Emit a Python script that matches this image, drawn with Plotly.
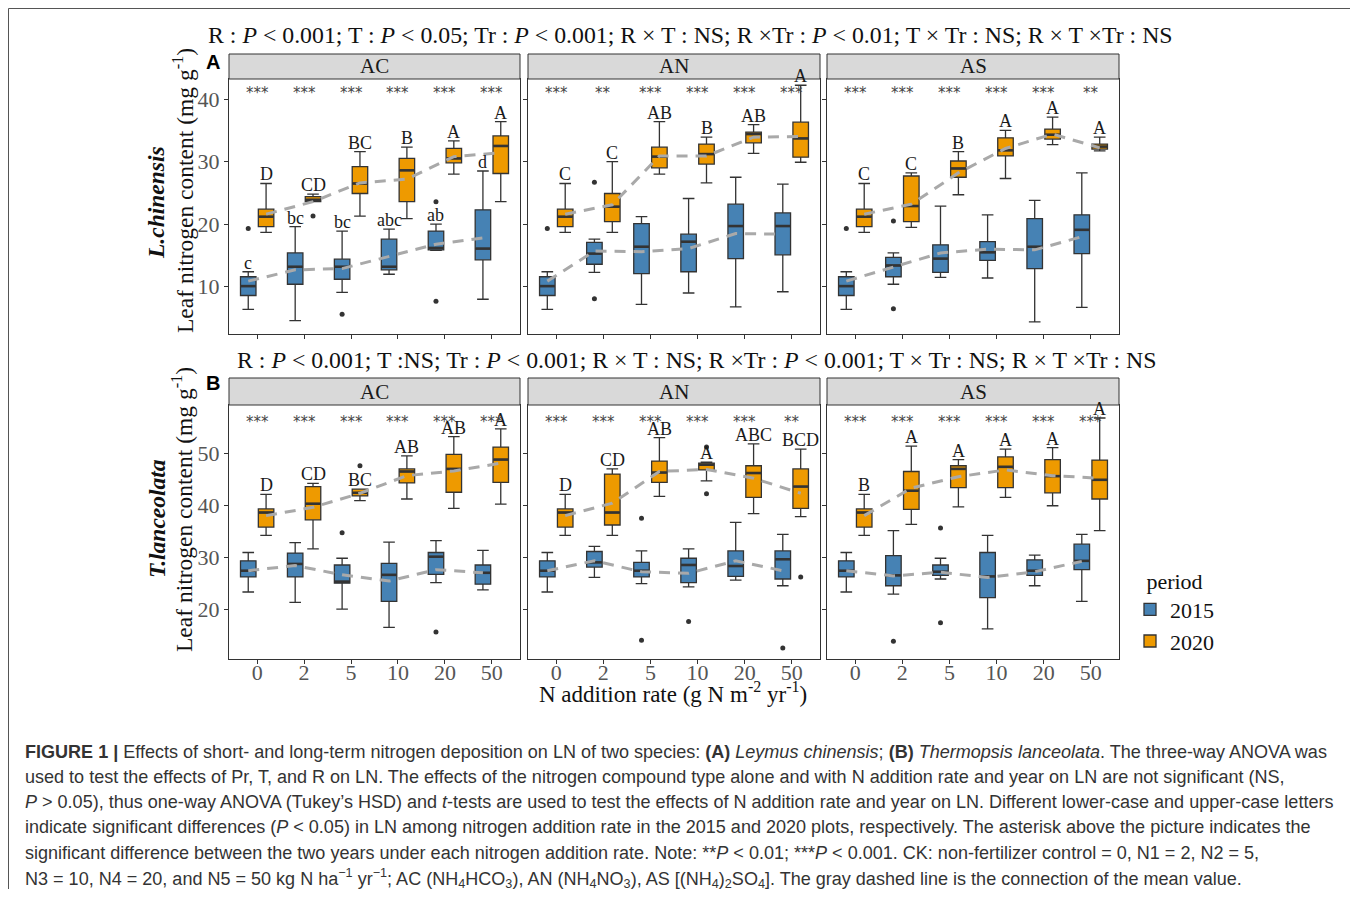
import plotly.graph_objects as go

# page body has an 8px margin; figure is sized so the whole page fits the window
PAD = 8
W, H = 1358 - 2 * PAD, 897 - 2 * PAD

rates = ["0", "2", "5", "10", "20", "50"]
treatments = ["AC", "AN", "AS"]
periods = ["2015", "2020"]
colors = {"2015": "#4682B4", "2020": "#EE9A00"}

# ---------------- (A) L. chinensis ----------------
lc_ac_15_lo = [6.4, 4.6, 9.1, 12.0, 15.8, 8.0]
lc_ac_15_q1 = [8.6, 10.4, 11.2, 12.7, 15.9, 14.3]
lc_ac_15_md = [10.1, 13.2, 13.2, 13.2, 16.2, 16.1]
lc_ac_15_q3 = [11.6, 15.4, 14.4, 17.6, 18.9, 22.3]
lc_ac_15_hi = [12.4, 19.6, 18.9, 19.2, 20.0, 28.5]
lc_ac_15_mean = [10.9, 12.7, 12.9, 14.8, 16.8, 17.8]
lc_ac_20_lo = [18.7, 23.6, 21.3, 20.9, 28.0, 23.6]
lc_ac_20_q1 = [19.6, 23.6, 24.9, 23.6, 29.8, 28.1]
lc_ac_20_md = [21.2, 23.9, 26.5, 28.6, 30.5, 32.5]
lc_ac_20_q3 = [22.4, 24.4, 29.2, 30.5, 32.1, 34.1]
lc_ac_20_hi = [26.5, 24.8, 31.6, 32.3, 33.3, 36.4]
lc_ac_20_mean = [21.6, 23.6, 26.6, 27.2, 30.8, 31.4]

lc_an_15_lo = [6.4, 12.3, 7.2, 9.0, 6.8, 9.2]
lc_an_15_q1 = [8.6, 13.6, 12.1, 12.4, 14.5, 15.1]
lc_an_15_md = [10.1, 15.3, 16.4, 17.2, 19.7, 19.7]
lc_an_15_q3 = [11.6, 17.1, 20.1, 18.4, 23.2, 21.8]
lc_an_15_hi = [12.4, 17.6, 21.2, 24.1, 27.5, 26.4]
lc_an_15_mean = [10.9, 15.7, 15.6, 16.1, 18.5, 18.4]
lc_an_20_lo = [18.7, 18.7, 28.0, 26.6, 31.3, 29.9]
lc_an_20_q1 = [19.6, 20.4, 29.0, 29.6, 33.0, 30.7]
lc_an_20_md = [21.2, 22.8, 30.8, 31.2, 34.4, 33.7]
lc_an_20_q3 = [22.4, 24.9, 32.3, 32.8, 34.7, 36.3]
lc_an_20_hi = [26.5, 30.0, 36.4, 33.9, 35.9, 42.2]
lc_an_20_mean = [21.6, 23.1, 30.9, 30.9, 33.9, 34.0]

lc_as_15_lo = [6.4, 10.4, 11.5, 11.4, 4.4, 6.7]
lc_as_15_q1 = [8.6, 11.6, 12.3, 14.2, 12.9, 15.3]
lc_as_15_md = [10.1, 13.4, 14.5, 15.5, 16.4, 19.1]
lc_as_15_q3 = [11.6, 14.7, 16.7, 17.2, 20.9, 21.5]
lc_as_15_hi = [12.4, 15.4, 22.9, 21.5, 23.8, 28.2]
lc_as_15_mean = [10.9, 13.2, 15.4, 16.0, 15.9, 18.0]
lc_as_20_lo = [18.7, 19.5, 24.7, 27.3, 32.7, 31.7]
lc_as_20_q1 = [19.6, 20.4, 27.5, 30.9, 33.6, 32.0]
lc_as_20_md = [21.2, 22.9, 28.9, 31.8, 34.3, 32.4]
lc_as_20_q3 = [22.4, 27.7, 30.1, 33.8, 35.2, 32.8]
lc_as_20_hi = [26.5, 28.2, 31.6, 35.0, 37.1, 33.9]
lc_as_20_mean = [21.6, 23.2, 28.2, 32.1, 34.4, 32.2]

# outliers: (rate index, period, value)
lc_ac_out = [(0, "2015", 19.3), (2, "2015", 5.6), (4, "2015", 23.6), (4, "2015", 7.7), (1, "2020", 21.3)]
lc_an_out = [(0, "2015", 19.3), (1, "2015", 26.7), (1, "2015", 8.1)]
lc_as_out = [(0, "2015", 19.3), (1, "2015", 20.5), (1, "2015", 6.5)]

lc_ac_let_15 = ["c", "bc", "bc", "abc", "ab", "d"]
lc_ac_let_20 = ["D", "CD", "BC", "B", "A", "A"]
lc_an_let_20 = ["C", "C", "AB", "B", "AB", "A"]
lc_as_let_20 = ["C", "C", "B", "A", "A", "A"]

lc_ac_stars = ["***", "***", "***", "***", "***", "***"]
lc_an_stars = ["***", "**", "***", "***", "***", "***"]
lc_as_stars = ["***", "***", "***", "***", "***", "**"]

# ---------------- (B) T. lanceolata ----------------
tl_ac_15_lo = [23.3, 21.3, 20.0, 16.5, 25.1, 23.7]
tl_ac_15_q1 = [26.2, 26.2, 25.0, 21.5, 26.7, 24.8]
tl_ac_15_md = [27.4, 28.7, 25.3, 26.6, 30.1, 27.0]
tl_ac_15_q3 = [29.3, 30.8, 28.5, 28.8, 30.9, 28.5]
tl_ac_15_hi = [30.9, 32.8, 29.8, 32.9, 33.2, 31.3]
tl_ac_15_mean = [27.4, 28.4, 26.6, 25.4, 27.6, 27.0]
tl_ac_20_lo = [34.2, 31.6, 40.9, 41.2, 39.4, 40.2]
tl_ac_20_q1 = [35.8, 37.2, 41.8, 44.3, 42.5, 44.4]
tl_ac_20_md = [38.6, 40.3, 42.4, 46.5, 47.0, 48.8]
tl_ac_20_q3 = [39.3, 43.6, 43.1, 47.0, 49.8, 51.2]
tl_ac_20_hi = [42.1, 44.2, 43.1, 49.5, 53.2, 54.7]
tl_ac_20_mean = [38.0, 39.6, 42.3, 45.7, 46.6, 48.1]

tl_an_15_lo = [23.3, 26.1, 24.9, 24.3, 25.6, 24.5]
tl_an_15_q1 = [26.2, 28.1, 26.2, 25.1, 26.3, 25.8]
tl_an_15_md = [27.4, 29.0, 27.4, 28.5, 28.3, 29.6]
tl_an_15_q3 = [29.3, 31.1, 29.0, 29.8, 31.2, 31.2]
tl_an_15_hi = [30.9, 32.1, 31.2, 31.6, 36.7, 34.4]
tl_an_15_mean = [27.4, 29.3, 27.2, 26.9, 29.3, 27.4]
tl_an_20_lo = [34.2, 34.2, 41.7, 44.7, 38.4, 37.8]
tl_an_20_q1 = [35.8, 36.2, 44.4, 46.8, 41.5, 39.4]
tl_an_20_md = [38.6, 38.6, 46.3, 47.8, 46.2, 43.6]
tl_an_20_q3 = [39.3, 46.0, 48.5, 48.1, 47.6, 47.0]
tl_an_20_hi = [42.1, 47.0, 53.0, 48.3, 51.8, 50.8]
tl_an_20_mean = [38.0, 40.4, 46.5, 46.9, 45.2, 42.3]

tl_as_15_lo = [23.3, 22.9, 25.8, 16.2, 24.5, 21.5]
tl_as_15_q1 = [26.2, 24.5, 26.5, 22.2, 26.5, 27.6]
tl_as_15_md = [27.4, 26.5, 27.2, 26.3, 27.4, 29.3]
tl_as_15_q3 = [29.3, 30.3, 28.5, 30.9, 29.5, 32.5]
tl_as_15_hi = [30.9, 35.1, 29.8, 34.2, 30.4, 34.4]
tl_as_15_mean = [27.4, 26.4, 27.1, 26.1, 27.2, 29.2]
tl_as_20_lo = [34.2, 36.3, 39.7, 41.5, 39.9, 35.1]
tl_as_20_q1 = [35.8, 39.2, 43.4, 43.4, 42.4, 41.2]
tl_as_20_md = [38.6, 42.8, 47.0, 47.4, 45.6, 44.9]
tl_as_20_q3 = [39.3, 46.5, 47.6, 49.3, 48.8, 48.7]
tl_as_20_hi = [42.1, 51.4, 48.8, 50.8, 51.1, 56.8]
tl_as_20_mean = [38.0, 43.3, 45.5, 46.8, 45.7, 45.2]

tl_ac_out = [(2, "2015", 34.7), (4, "2015", 15.6), (2, "2020", 47.6)]
tl_an_out = [(2, "2015", 14.0), (2, "2015", 37.5), (3, "2015", 17.6), (3, "2020", 51.2),
             (3, "2020", 42.2), (5, "2020", 26.2), (5, "2015", 12.5)]
tl_as_out = [(1, "2015", 13.8), (2, "2015", 17.4), (2, "2015", 35.6)]

tl_ac_let_20 = ["D", "CD", "BC", "AB", "AB", "A"]
tl_an_let_20 = ["D", "CD", "AB", "A", "ABC", "BCD"]
tl_as_let_20 = ["B", "A", "A", "A", "A", "A"]

tl_ac_stars = ["***", "***", "***", "***", "***", "***"]
tl_an_stars = ["***", "***", "***", "***", "***", "**"]
tl_as_stars = ["***", "***", "***", "***", "***", "***"]

stat_A = {
    ("AC", "2015"): (lc_ac_15_lo, lc_ac_15_q1, lc_ac_15_md, lc_ac_15_q3, lc_ac_15_hi, lc_ac_15_mean),
    ("AC", "2020"): (lc_ac_20_lo, lc_ac_20_q1, lc_ac_20_md, lc_ac_20_q3, lc_ac_20_hi, lc_ac_20_mean),
    ("AN", "2015"): (lc_an_15_lo, lc_an_15_q1, lc_an_15_md, lc_an_15_q3, lc_an_15_hi, lc_an_15_mean),
    ("AN", "2020"): (lc_an_20_lo, lc_an_20_q1, lc_an_20_md, lc_an_20_q3, lc_an_20_hi, lc_an_20_mean),
    ("AS", "2015"): (lc_as_15_lo, lc_as_15_q1, lc_as_15_md, lc_as_15_q3, lc_as_15_hi, lc_as_15_mean),
    ("AS", "2020"): (lc_as_20_lo, lc_as_20_q1, lc_as_20_md, lc_as_20_q3, lc_as_20_hi, lc_as_20_mean),
}
stat_B = {
    ("AC", "2015"): (tl_ac_15_lo, tl_ac_15_q1, tl_ac_15_md, tl_ac_15_q3, tl_ac_15_hi, tl_ac_15_mean),
    ("AC", "2020"): (tl_ac_20_lo, tl_ac_20_q1, tl_ac_20_md, tl_ac_20_q3, tl_ac_20_hi, tl_ac_20_mean),
    ("AN", "2015"): (tl_an_15_lo, tl_an_15_q1, tl_an_15_md, tl_an_15_q3, tl_an_15_hi, tl_an_15_mean),
    ("AN", "2020"): (tl_an_20_lo, tl_an_20_q1, tl_an_20_md, tl_an_20_q3, tl_an_20_hi, tl_an_20_mean),
    ("AS", "2015"): (tl_as_15_lo, tl_as_15_q1, tl_as_15_md, tl_as_15_q3, tl_as_15_hi, tl_as_15_mean),
    ("AS", "2020"): (tl_as_20_lo, tl_as_20_q1, tl_as_20_md, tl_as_20_q3, tl_as_20_hi, tl_as_20_mean),
}
out_A = {"AC": lc_ac_out, "AN": lc_an_out, "AS": lc_as_out}
out_B = {"AC": tl_ac_out, "AN": tl_an_out, "AS": tl_as_out}
let_A = {("AC", "2015"): lc_ac_let_15, ("AC", "2020"): lc_ac_let_20,
         ("AN", "2020"): lc_an_let_20, ("AS", "2020"): lc_as_let_20}
let_B = {("AC", "2020"): tl_ac_let_20, ("AN", "2020"): tl_an_let_20, ("AS", "2020"): tl_as_let_20}
stars_A = {"AC": lc_ac_stars, "AN": lc_an_stars, "AS": lc_as_stars}
stars_B = {"AC": tl_ac_stars, "AN": tl_an_stars, "AS": tl_as_stars}

panels = [
    dict(stat=stat_A, out=out_A, let=let_A, stars=stars_A, yrange=[2.45, 43.2],
         yticks=[10, 20, 30, 40], top=79, bot=334, strip=54, star_y=41.3),
    dict(stat=stat_B, out=out_B, let=let_B, stars=stars_B, yrange=[10.4, 59.3],
         yticks=[20, 30, 40, 50], top=405, bot=659, strip=378, star_y=56.4),
]
xcols = [(229, 520), (528, 820), (827, 1119)]

OFF = {"2015": -0.19, "2020": 0.19}
BOXW = 0.33
SERIF = "Liberation Serif"


def fx(px):
    return (px - PAD) / W


def fy(py):
    return 1 - (py - PAD) / H


def txt_ann(x, y, text, size, family=SERIF, color="#111", xanchor="center", **kw):
    d = dict(xref="paper", yref="paper", x=fx(x), y=fy(y), text=text, showarrow=False,
             xanchor=xanchor, yanchor="middle", font=dict(family=family, size=size, color=color))
    d.update(kw)
    return d


fig = go.Figure()
annotations = []
shapes = []
layout_axes = {}

k = 0
for pi, pan in enumerate(panels):
    for ti, tr in enumerate(treatments):
        k += 1
        xa = "x" if k == 1 else f"x{k}"
        ya = "y" if k == 1 else f"y{k}"
        xl = "xaxis" if k == 1 else f"xaxis{k}"
        yl = "yaxis" if k == 1 else f"yaxis{k}"
        x0, x1 = xcols[ti]
        layout_axes[xl] = dict(
            domain=[fx(x0), fx(x1)], anchor=ya, range=[-0.6, 5.6],
            tickvals=list(range(len(rates))), ticktext=rates,
            showticklabels=(pi == 1), ticks="outside", ticklen=4, tickcolor="#333",
            ticklabelstandoff=-10,
            showline=True, mirror=True, linecolor="#333", linewidth=1,
            showgrid=False, zeroline=False,
            tickfont=dict(family=SERIF, size=22, color="#555"),
        )
        layout_axes[yl] = dict(
            domain=[fy(pan["bot"]), fy(pan["top"])], anchor=xa, range=pan["yrange"],
            tickvals=pan["yticks"], showticklabels=(ti == 0), ticks="outside",
            ticklen=4, tickcolor="#333", showline=True, mirror=True, linecolor="#333",
            linewidth=1, showgrid=False, zeroline=False,
            tickfont=dict(family=SERIF, size=22, color="#555"),
        )
        # strip
        shapes.append(dict(type="rect", xref="paper", yref="paper",
                           x0=fx(x0), x1=fx(x1), y0=fy(pan["top"]), y1=fy(pan["strip"]),
                           fillcolor="#D9D9D9", line=dict(color="#333", width=1)))
        annotations.append(txt_ann((x0 + x1) / 2, (pan["top"] + pan["strip"]) / 2, tr, 21,
                                   color="#1a1a1a"))
        # boxes
        for per in periods:
            lo, q1, md, q3, hi, mean = pan["stat"][(tr, per)]
            xs = [i + OFF[per] for i in range(len(rates))]
            fig.add_trace(go.Box(
                x=xs, lowerfence=lo, q1=q1, median=md, q3=q3, upperfence=hi,
                width=BOXW, whiskerwidth=0.75, fillcolor=colors[per],
                line=dict(color="#333333", width=1.3), boxpoints=False,
                name=per, legendgroup=per, showlegend=(k == 1),
                xaxis=xa, yaxis=ya, hoverinfo="skip",
            ))
            # thick median bars (as ggplot draws them)
            mx, my = [], []
            for i in range(len(rates)):
                mx += [xs[i] - BOXW / 2 * 0.96, xs[i] + BOXW / 2 * 0.96, None]
                my += [md[i], md[i], None]
            fig.add_trace(go.Scatter(x=mx, y=my, mode="lines",
                                     line=dict(color="#333333", width=2.6),
                                     showlegend=False, xaxis=xa, yaxis=ya, hoverinfo="skip"))
            lets = pan["let"].get((tr, per))
            if lets:
                for i, lt in enumerate(lets):
                    annotations.append(dict(xref=xa, yref=ya, x=xs[i], y=hi[i], text=lt,
                                            showarrow=False, yanchor="bottom", xanchor="center",
                                            yshift=-3,
                                            font=dict(family=SERIF, size=18, color="#1a1a1a")))
        # outliers
        outs = pan["out"][tr]
        fig.add_trace(go.Scatter(
            x=[o[0] + OFF[o[1]] for o in outs], y=[o[2] for o in outs], mode="markers",
            marker=dict(color="#333333", size=5), showlegend=False, xaxis=xa, yaxis=ya,
            hoverinfo="skip"))
        # mean lines
        for per in periods:
            mean = pan["stat"][(tr, per)][5]
            xs = [i + OFF[per] for i in range(len(rates))]
            fig.add_trace(go.Scatter(
                x=xs, y=mean, mode="lines",
                line=dict(color="#A9A9A9", width=3, dash="11px,8px"),
                showlegend=False, xaxis=xa, yaxis=ya, hoverinfo="skip"))
        # stars
        for i, s in enumerate(pan["stars"][tr]):
            annotations.append(dict(xref=xa, yref=ya, x=i, y=pan["star_y"], text=s,
                                    showarrow=False, xanchor="center", yanchor="middle",
                                    yshift=-2,
                                    font=dict(family="DejaVu Sans", size=15, color="#444444")))

# titles above panels
title_A = ("R : <i>P</i> &lt; 0.001; T : <i>P</i> &lt; 0.05; Tr : <i>P</i> &lt; 0.001; R × T : NS; "
           "R ×Tr : <i>P</i> &lt; 0.01; T × Tr : NS; R × T ×Tr : NS")
title_B = ("R : <i>P</i> &lt; 0.001; T :NS; Tr : <i>P</i> &lt; 0.001; R × T : NS; "
           "R ×Tr : <i>P</i> &lt; 0.001; T × Tr : NS; R × T ×Tr : NS")
annotations.append(txt_ann(690, 35, title_A, 23.8))
annotations.append(txt_ann(696, 360, title_B, 23.8))

# panel letters
for lbl, yy in (("A", 62), ("B", 383)):
    annotations.append(txt_ann(213, yy, f"<b>{lbl}</b>", 20, family="Liberation Sans", color="#000"))

# y axis titles
ytitles = [("<b><i>L.chinensis</i></b>", 156, 203), ("Leaf nitrogen content (mg g<sup>-1</sup>)", 183, 191),
           ("<b><i>T.lanceolata</i></b>", 157, 519), ("Leaf nitrogen content (mg g<sup>-1</sup>)", 182, 510)]
for txt, xx, yy in ytitles:
    annotations.append(txt_ann(xx, yy, txt, 23.5, textangle=-90))

# x axis title
annotations.append(txt_ann(673, 692, "N addition rate (g N m<sup>-2</sup> yr<sup>-1</sup>)", 23))

# caption
caption_lines = [
    "<b>FIGURE 1 |</b> Effects of short- and long-term nitrogen deposition on LN of two species: <b>(A)</b> "
    "<i>Leymus chinensis</i>; <b>(B)</b> <i>Thermopsis lanceolata</i>. The three-way ANOVA was",
    "used to test the effects of Pr, T, and R on LN. The effects of the nitrogen compound type alone and with "
    "N addition rate and year on LN are not significant (NS,",
    "<i>P</i> &gt; 0.05), thus one-way ANOVA (Tukey’s HSD) and <i>t</i>-tests are used to test the effects of "
    "N addition rate and year on LN. Different lower-case and upper-case letters",
    "indicate significant differences (<i>P</i> &lt; 0.05) in LN among nitrogen addition rate in the 2015 and "
    "2020 plots, respectively. The asterisk above the picture indicates the",
    "significant difference between the two years under each nitrogen addition rate. Note: **<i>P</i> &lt; 0.01; "
    "***<i>P</i> &lt; 0.001. CK: non-fertilizer control = 0, N1 = 2, N2 = 5,",
    "N3 = 10, N4 = 20, and N5 = 50 kg N ha<sup>−1</sup> yr<sup>−1</sup>; AC (NH<sub>4</sub>HCO<sub>3</sub>), "
    "AN (NH<sub>4</sub>NO<sub>3</sub>), AS [(NH<sub>4</sub>)<sub>2</sub>SO<sub>4</sub>]. "
    "The gray dashed line is the connection of the mean value.",
]
for j, line in enumerate(caption_lines):
    annotations.append(txt_ann(23, 751.5 + j * 25.3, line, 18.05, family="Liberation Sans",
                               color="#333", xanchor="left"))

# outer frame
shapes.append(dict(type="rect", xref="paper", yref="paper", x0=fx(8.5), x1=fx(1354), y0=fy(893),
                   y1=fy(8.5), line=dict(color="#555", width=1), fillcolor="rgba(0,0,0,0)",
                   layer="below"))

fig.update_layout(
    width=W, height=H, margin=dict(l=0, r=0, t=0, b=0),
    paper_bgcolor="white", plot_bgcolor="white", boxmode="overlay",
    annotations=annotations, shapes=shapes,
    legend=dict(x=fx(1130), y=fy(560), xanchor="left", yanchor="top",
                title=dict(text="period", side="top center",
                           font=dict(family=SERIF, size=22, color="#111")),
                font=dict(family=SERIF, size=22, color="#111"), bgcolor="rgba(0,0,0,0)",
                tracegroupgap=0, itemwidth=30),
    **layout_axes,
)

fig.write_html("out.html")
